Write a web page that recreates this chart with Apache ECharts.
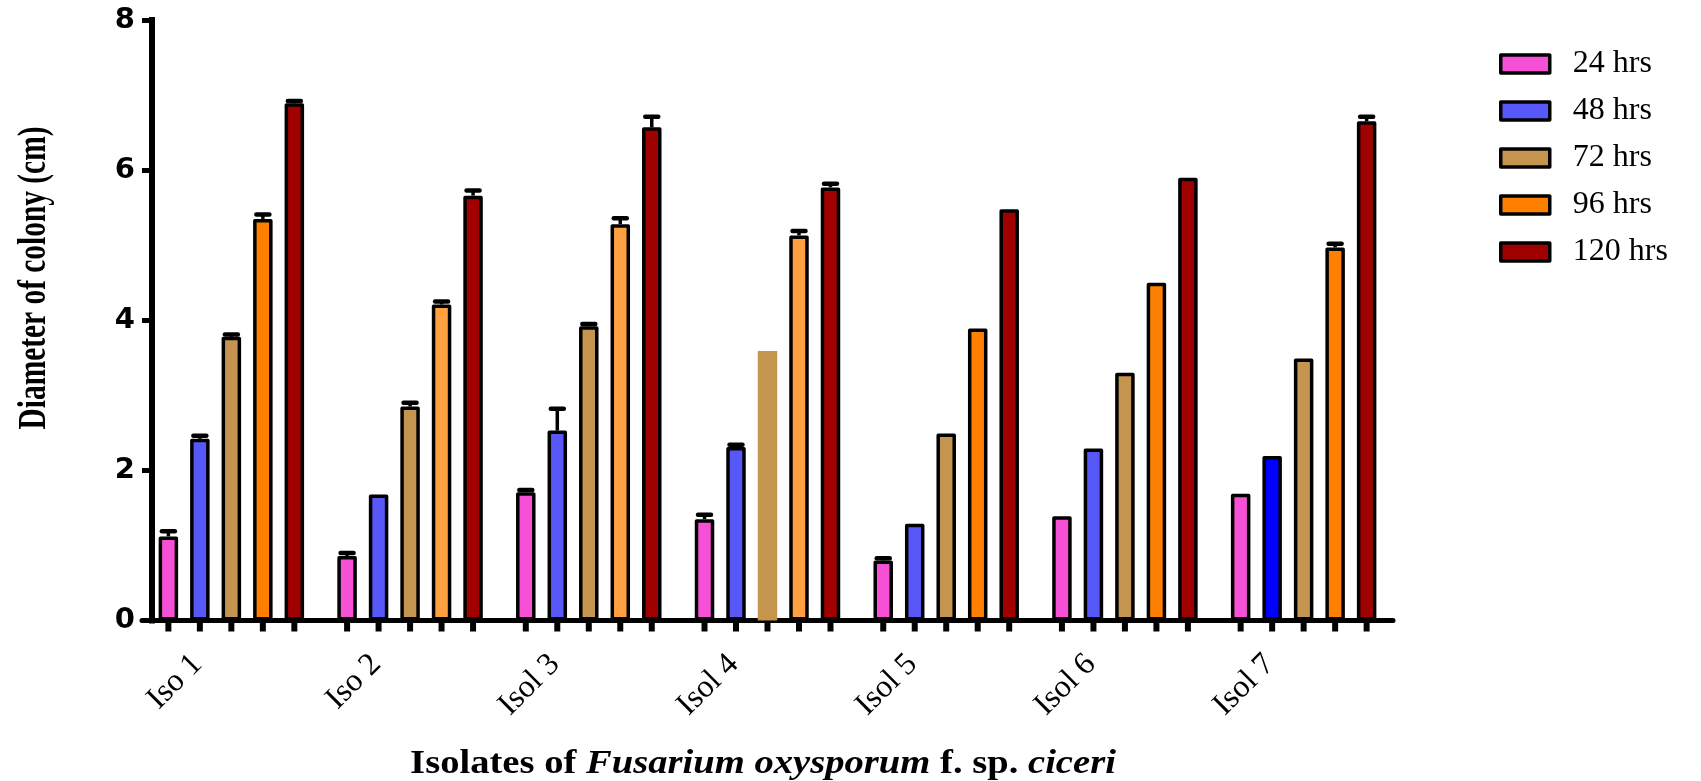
<!DOCTYPE html>
<html>
<head>
<meta charset="utf-8">
<script src="https://cdn.jsdelivr.net/npm/echarts@6/dist/echarts.min.js"></script>
<style>
html,body{margin:0;padding:0;background:#ffffff;}
#chart{width:1701px;height:781px;}
</style>
</head>
<body>
<div id="chart"></div>
<script>
// ---- data ----
const categories = ['Iso 1', 'Iso 2', 'Isol 3', 'Isol 4', 'Isol 5', 'Isol 6', 'Isol 7'];
const seriesNames = ['24 hrs', '48 hrs', '72 hrs', '96 hrs', '120 hrs'];
const h24  = [1.12, 0.86, 1.71, 1.35, 0.80, 1.39, 1.69];
const h48  = [2.42, 1.68, 2.53, 2.31, 1.29, 2.29, 2.19];
const h72  = [3.78, 2.85, 3.92, 3.59, 2.49, 3.30, 3.49];
const h96  = [5.35, 4.21, 5.28, 5.13, 3.89, 4.50, 4.97];
const h120 = [6.89, 5.66, 6.57, 5.77, 5.48, 5.90, 6.65];
const e24  = [0.07, 0.04, 0.03, 0.06, 0.03, 0, 0];
const e48  = [0.04, 0, 0.29, 0.03, 0, 0, 0];
const e72  = [0.03, 0.05, 0.03, 0, 0, 0, 0];
const e96  = [0.06, 0.04, 0.08, 0.06, 0, 0, 0.05];
const e120 = [0.03, 0.07, 0.14, 0.05, 0, 0, 0.06];
const yTickValues = [0, 2, 4, 6, 8];

// ---- styles ----
const colors = ['#F650D6', '#5858F8', '#C5954F', '#FF8000', '#A00000'];
// per-bar style exceptions  "seriesIndex-categoryIndex"
const fillOverrides = { '1-6': '#0000FF', '3-1': '#FFA040', '3-2': '#FFA040', '3-3': '#FFA040' };
const noBorder = { '2-3': true };

const values = [h24, h48, h72, h96, h120];
const errors = [e24, e48, e72, e96, e120];

const BAR_W = 19.5;
const GAP_RATIO = 0.615;
const STEP = BAR_W * (1 + GAP_RATIO);

const series = [];
values.forEach((vals, s) => {
  series.push({
    name: seriesNames[s],
    type: 'bar',
    barWidth: BAR_W,
    barGap: (GAP_RATIO * 100) + '%',
    itemStyle: { color: colors[s], borderColor: '#000', borderWidth: 3.5, borderJoin: 'round' },
    emphasis: { disabled: true },
    label: {
      show: true, position: 'bottom', distance: 2,
      formatter: '{t|}',
      rich: { t: { width: 6, height: 9, backgroundColor: '#000' } }
    },
    data: vals.map((v, i) => {
      const key = s + '-' + i;
      const st = {};
      if (fillOverrides[key]) st.color = fillOverrides[key];
      if (noBorder[key]) { st.borderWidth = 0; }
      return { value: v, itemStyle: st };
    }),
    z: 2
  });
});

errors.forEach((errs, s) => {
  const offset = (s - 2) * STEP;
  series.push({
    type: 'custom',
    name: seriesNames[s] + ' error',
    clip: false,
    z: 5,
    silent: true,
    encode: { x: 0, y: 1 },
    data: errs.map((e, i) => [i, values[s][i], e]),
    renderItem: function (params, api) {
      const idx = api.value(0), v = api.value(1), e = api.value(2);
      if (!e) return null;
      const base = api.coord([idx, v]);
      const top = api.coord([idx, v + e]);
      const x = base[0] + offset;
      return {
        type: 'group',
        children: [
          { type: 'line', shape: { x1: x, y1: base[1], x2: x, y2: top[1] }, style: { stroke: '#000', lineWidth: 3.5 } },
          { type: 'line', shape: { x1: x - 6.5, y1: top[1], x2: x + 6.5, y2: top[1] }, style: { stroke: '#000', lineWidth: 4.5, lineCap: 'round' } }
        ]
      };
    }
  });
});

const chart = echarts.init(document.getElementById('chart'), null, { renderer: 'canvas' });
chart.setOption({
  animation: false,
  backgroundColor: '#ffffff',
  grid: { left: 142, top: 20, width: 1251, height: 600.5, containLabel: false },
  legend: {
    data: seriesNames,
    orient: 'vertical',
    left: 1494, top: 43,
    itemWidth: 49, itemHeight: 18, itemGap: 15,
    icon: 'rect',
    selectedMode: false,
    itemStyle: { borderColor: '#000', borderWidth: 3.5 },
    textStyle: { fontFamily: 'Liberation Serif', fontSize: 32, color: '#000', padding: [0, 0, 0, 18], lineHeight: 30 }
  },
  xAxis: {
    type: 'category',
    data: categories,
    axisLine: { lineStyle: { color: '#000', width: 5 } },
    axisTick: { show: false },
    axisLabel: {
      interval: 0, rotate: 45, margin: 5,
      fontFamily: 'Liberation Serif', fontSize: 32, color: '#000',
      padding: [0, 48, 0, 0]
    },
    splitLine: { show: false }
  },
  yAxis: {
    type: 'value',
    min: yTickValues[0], max: yTickValues[yTickValues.length - 1], interval: 2,
    offset: -10,
    axisLine: { show: true, lineStyle: { color: '#000', width: 6, cap: 'square' } },
    axisTick: { show: true, length: 10, lineStyle: { color: '#000', width: 5 } },
    axisLabel: { margin: 17, fontFamily: 'DejaVu Sans', fontWeight: 'bold', fontSize: 29, color: '#000' },
    splitLine: { show: false }
  },
  graphic: [
    {
      type: 'text', x: 35, y: 278, rotation: Math.PI / 2, scaleX: 0.735,
      style: { text: 'Diameter of colony (cm)', fontFamily: 'Liberation Serif', fontWeight: 'bold', fontSize: 40, fill: '#000', align: 'center', verticalAlign: 'middle' }
    },
    {
      type: 'text', x: 763, y: 764, scaleX: 1.17,
      style: {
        text: '{b|Isolates of }{i|Fusarium oxysporum}{b| f. sp. }{i|ciceri}',
        align: 'center', verticalAlign: 'middle', fill: '#000',
        rich: {
          b: { fontFamily: 'Liberation Serif', fontWeight: 'bold', fontSize: 33, fill: '#000' },
          i: { fontFamily: 'Liberation Serif', fontWeight: 'bold', fontStyle: 'italic', fontSize: 33, fill: '#000' }
        }
      }
    }
  ],
  series: series
});
</script>
</body>
</html>
